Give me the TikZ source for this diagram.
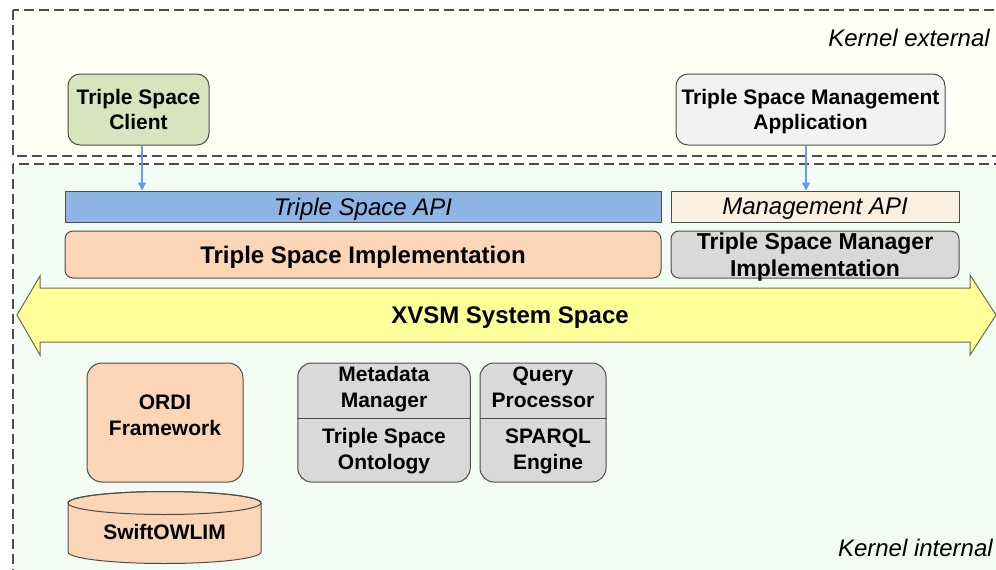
\documentclass[tikz,border=0pt]{standalone}
\usepackage{fontspec}
\setmainfont{Liberation Sans}
\usetikzlibrary{arrows.meta}
\definecolor{extfill}{HTML}{FEFEF2}
\definecolor{intfill}{HTML}{F3FCF3}
\definecolor{clientfill}{HTML}{D7E4BD}
\definecolor{appfill}{HTML}{F2F2F2}
\definecolor{apifill}{HTML}{8DB4E2}
\definecolor{mapifill}{HTML}{FDEFDF}
\definecolor{peach}{HTML}{FBD5B5}
\definecolor{grayfill}{HTML}{D9D9D9}
\definecolor{xvsmfill}{HTML}{FFFF99}
\definecolor{xvsmline}{HTML}{6B6B55}
\definecolor{lineclr}{HTML}{4D4D4D}
\definecolor{conclr}{HTML}{6699FF}
\begin{document}
\begin{tikzpicture}[x=1pt,y=-1pt,
  zone/.style={draw=lineclr, line width=1.4pt, dash pattern=on 10pt off 5pt},
  box/.style={draw=lineclr, line width=1pt, inner sep=0pt},
  lbl/.style={font=\bfseries\fontsize{21}{25.5}\selectfont, align=center, inner sep=0pt, text depth=0pt},
  biglbl/.style={font=\bfseries\fontsize{23}{26.5}\selectfont, align=center, inner sep=0pt, text depth=0pt},
  apilbl/.style={font=\itshape\fontsize{24}{27}\selectfont, inner sep=0pt, text depth=0pt},
  conn/.style={draw=conclr, line width=1.2pt, -{Triangle[length=8pt,width=8pt]}},
  xvsm/.style={draw=xvsmline, line width=1pt, fill=xvsmfill}]
\useasboundingbox (0,0) rectangle (996,570);
\clip (0,0) rectangle (996,570);
\fill[white] (0,0) rectangle (996,570);
% zones
\draw[zone, fill=extfill] (13,10) rectangle (1010,156);
\draw[zone, fill=intfill] (13,164) rectangle (1010,600);
\node[apilbl, anchor=base east] (kext) at (990,46) {Kernel external};
\node[apilbl, anchor=base east] (kint) at (993,556) {Kernel internal};
% external apps
\node[box, fill=clientfill, rounded corners=12, minimum width=141, minimum height=71, lbl] (client) at (138.5,109.5) {Triple Space\\Client};
\node[box, fill=appfill, rounded corners=12, minimum width=269, minimum height=71, lbl] (mapp) at (810.5,109.5) {Triple Space Management\\Application};
% APIs
\node[box, fill=apifill, minimum width=596, minimum height=31, apilbl] (api) at (363,206.5) {Triple Space API};
\node[box, fill=mapifill, minimum width=288, minimum height=31, apilbl] (mapi) at (815,206.5) {Management API};
\node[box, fill=peach, rounded corners=8, minimum width=596, minimum height=47, biglbl, font=\bfseries\fontsize{24}{27}\selectfont] (tsi) at (363,254.5) {Triple Space Implementation};
\node[box, fill=grayfill, rounded corners=8, minimum width=288, minimum height=47, biglbl] (tsmi) at (815,254.5) {Triple Space Manager\\Implementation};
% connectors
\draw[conn] ([xshift=3.5pt]client.south) -- ([xshift=3.5pt]client.south |- api.north);
\draw[conn] ([xshift=-4.5pt]mapp.south) -- ([xshift=-4.5pt]mapp.south |- mapi.north);
% XVSM system space
\draw[xvsm] (17,315) -- (40,276) -- (40,288) -- (970,288) -- (970,275) -- (996,315) -- (970,355) -- (970,342) -- (40,342) -- (40,355) -- cycle;
\node[font=\bfseries\fontsize{24}{28}\selectfont, inner sep=0pt, text depth=0pt] (xvsmlbl) at (510,315) {XVSM System Space};
% ORDI
\node[box, fill=peach, rounded corners=15, minimum width=156, minimum height=119] (ordi) at (165,422.5) {};
\node[lbl] (ordilbl) at (165,415) {ORDI\\Framework};
% SwiftOWLIM cylinder
\draw[box, fill=peach] (68,503) -- (68,552) arc[start angle=180, end angle=0, x radius=96.5, y radius=11.5] -- (261,503) arc[start angle=0, end angle=-180, x radius=96.5, y radius=11.5] -- cycle;
\draw[box] (164.5,503) ellipse [x radius=96.5, y radius=11.5];
\node[lbl] (owlim) at (164.5,532) {SwiftOWLIM};
% Metadata manager
\node[box, fill=grayfill, rounded corners=14, minimum width=172.5, minimum height=119] (mm) at (384,422.5) {};
\draw[box] (mm.west |- 0,418) -- (mm.east |- 0,418);
\node[lbl] (mmtop) at (384,387) {Metadata\\Manager};
\node[lbl] (mmbot) at (384,449) {Triple Space\\Ontology};
% Query processor
\node[box, fill=grayfill, rounded corners=14, minimum width=126, minimum height=119] (qp) at (543,422.5) {};
\draw[box] (qp.west |- 0,418) -- (qp.east |- 0,418);
\node[lbl] (qptop) at (543,387) {Query\\Processor};
\node[lbl] (qpbot) at (548,449) {SPARQL\\Engine};
\end{tikzpicture}
\end{document}
